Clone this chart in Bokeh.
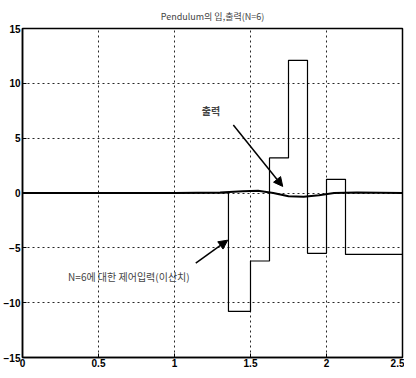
from bokeh.plotting import figure
from bokeh.models import Range1d, Arrow, NormalHead, Label, FixedTicker, Title
from bokeh.embed import file_html
from bokeh.resources import INLINE

# input (discrete control signal) — step values
t_in = [0.0, 1.355, 1.5, 1.625, 1.75, 1.875, 2.0, 2.125, 2.5]
u_in = [0.0, -10.8, -6.2, 3.2, 12.1, -5.5, 1.25, -5.6, -5.6]

# output — stays close to zero
t_out = [0.0, 0.5, 1.0, 1.3, 1.45, 1.55, 1.65, 1.75, 1.85, 1.95, 2.05, 2.2, 2.5]
y_out = [0.0, 0.0, 0.0, 0.05, 0.15, 0.2, 0.0, -0.3, -0.35, -0.2, 0.0, 0.05, 0.0]

x_ticks = [0, 0.5, 1, 1.5, 2, 2.5]
y_ticks = [-15, -10, -5, 0, 5, 10, 15]

title_text = "Pendulum의 입,출력(N=6)"
out_label = "출력"
in_label = "N=6에 대한 제어입력(이산치)"

p = figure(width=404, height=370, output_backend="svg", toolbar_location=None,
           x_range=Range1d(0, 2.5), y_range=Range1d(-15, 15),
           min_border_left=19, min_border_right=2, min_border_top=28, min_border_bottom=13)
p.title = Title(text=title_text, text_font="Noto Sans CJK KR", text_font_size="9px",
                text_font_style="normal", align="center", offset=0, standoff=12)
p.background_fill_color = "white"
p.outline_line_color = "black"
p.outline_line_width = 1.5

for ax in (p.xaxis[0], p.yaxis[0]):
    ax.axis_line_color = "black"
    ax.axis_line_width = 1.5
    ax.major_tick_in = 4
    ax.major_tick_out = 0
    ax.minor_tick_line_color = None
    ax.major_label_text_font = "Liberation Sans"
    ax.major_label_text_font_size = "10px"
    ax.major_label_text_font_style = "bold"
    ax.major_label_text_color = "black"
p.xaxis[0].ticker = FixedTicker(ticks=x_ticks)
p.yaxis[0].ticker = FixedTicker(ticks=y_ticks)
p.xaxis[0].major_label_standoff = 1
p.yaxis[0].major_label_standoff = 2

for g in (p.xgrid[0], p.ygrid[0]):
    g.grid_line_color = "black"
    g.grid_line_dash = "2 3"
    g.grid_line_width = 1
    g.grid_line_alpha = 0.85
p.xgrid[0].ticker = FixedTicker(ticks=x_ticks)
p.ygrid[0].ticker = FixedTicker(ticks=y_ticks)

p.step(t_in, u_in, mode="after", line_color="black", line_width=1.2)
p.line(t_out, y_out, line_color="black", line_width=2)

p.add_layout(Arrow(end=NormalHead(size=9, fill_color="black", line_color="black"),
                   x_start=1.387, y_start=6.2, x_end=1.712, y_end=0.6,
                   line_color="black", line_width=1.5))
p.add_layout(Arrow(end=NormalHead(size=9, fill_color="black", line_color="black"),
                   x_start=1.14, y_start=-6.4, x_end=1.35, y_end=-4.3,
                   line_color="black", line_width=1.5))

p.add_layout(Label(x=1.18, y=7.5, text=out_label, text_font="Noto Sans CJK KR",
                   text_font_size="10px", text_font_style="bold", text_baseline="middle"))
p.add_layout(Label(x=0.3, y=-7.6, text=in_label, text_font="Noto Sans CJK KR",
                   text_font_size="10px", text_baseline="middle"))

open("out.html", "w").write(file_html(p, INLINE))
